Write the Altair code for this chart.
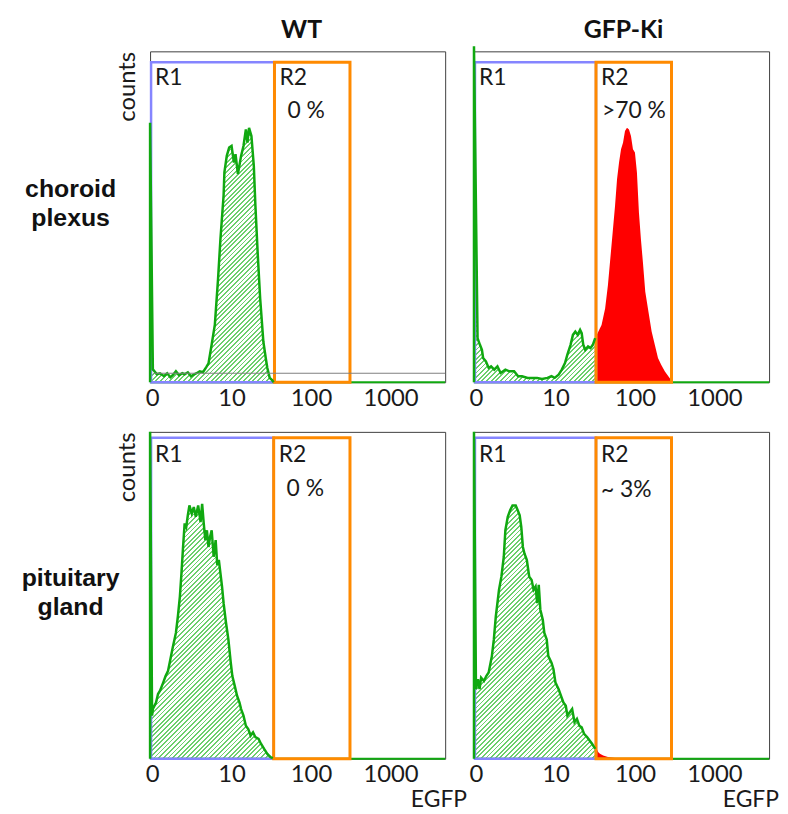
import math
import altair as alt
import pandas as pd

# ---------------- data ----------------
# x: log10 of EGFP intensity (decades; the "0" tick is the first decade), y: relative counts (full scale = 1000)
wt_cp_x = [-0.025, -0.025, 0.01, 0.06, 0.10, 0.15, 0.19, 0.23, 0.26, 0.30, 0.34, 0.38, 0.41, 0.45, 0.49,
           0.53, 0.56, 0.60, 0.64, 0.68, 0.71, 0.75, 0.79, 0.83, 0.86, 0.90, 0.91, 0.94, 0.97, 1.00,
           1.03, 1.05, 1.08, 1.12, 1.15, 1.18, 1.20, 1.22, 1.25, 1.28, 1.30, 1.33, 1.36, 1.40, 1.43,
           1.45, 1.48, 1.51, 1.53]
wt_cp_y = [0, 784, 39, 24, 27, 18, 27, 15, 21, 33, 21, 27, 24, 30, 18,
           24, 27, 33, 30, 45, 57, 114, 174, 312, 432, 565, 634, 684, 709, 714,
           664, 689, 629, 684, 714, 764, 724, 769, 744, 654, 534, 384, 253, 123, 73,
           43, 13, 6, 0]

ki_cp_x = [-0.025, -0.025, 0.02, 0.05, 0.075, 0.09, 0.125, 0.16, 0.19, 0.23, 0.27, 0.31, 0.37, 0.42, 0.48,
           0.53, 0.58, 0.65, 0.71, 0.77, 0.83, 0.90, 0.95, 0.99, 1.04, 1.08, 1.12, 1.15, 1.19, 1.22,
           1.25, 1.28, 1.31, 1.33, 1.35, 1.375, 1.41, 1.44, 1.47, 1.50,
           1.54, 1.58, 1.625, 1.66, 1.69, 1.72, 1.75, 1.775, 1.80, 1.825, 1.85, 1.875, 1.90, 1.925, 1.95,
           1.975, 2.00, 2.025, 2.05, 2.075, 2.10, 2.13, 2.17, 2.21, 2.25, 2.29, 2.33, 2.375, 2.42, 2.45, 2.47]
ki_cp_y = [0, 1015, 133, 113, 98, 73, 63, 43, 48, 38, 48, 28, 38, 33, 33,
           18, 18, 13, 13, 13, 10, 13, 18, 13, 23, 38, 58, 83, 113, 143,
           153, 143, 158, 148, 113, 98, 108, 103, 113, 133,
           153, 173, 223, 293, 373, 453, 534, 614, 664, 704, 724, 759, 769, 764, 744,
           704, 694, 634, 514, 433, 363, 273, 213, 153, 113, 73, 53, 33, 18, 8, 0]

wt_pg_x = [-0.025, -0.025, 0.00, 0.01, 0.05, 0.075, 0.10, 0.14, 0.17, 0.20, 0.23, 0.26, 0.30, 0.325, 0.35,
           0.37, 0.39, 0.41, 0.43, 0.45, 0.47, 0.50, 0.525, 0.55, 0.58, 0.61, 0.63, 0.65, 0.67, 0.69,
           0.71, 0.73, 0.75, 0.775, 0.80, 0.82, 0.84, 0.86, 0.88, 0.90, 0.93, 0.96, 0.99, 1.01, 1.04,
           1.07, 1.10, 1.12, 1.15, 1.18, 1.21, 1.24, 1.27, 1.30, 1.34, 1.37, 1.41, 1.45, 1.49, 1.52, 1.55]
wt_pg_y = [0, 1000, 132, 152, 172, 198, 208, 233, 253, 268, 304, 340, 385, 436, 496,
           568, 648, 720, 709, 745, 775, 750, 770, 740, 775, 724, 780, 720, 669, 699,
           648, 679, 699, 618, 669, 593, 608, 568, 527, 476, 416, 365, 294, 253, 223,
           192, 172, 152, 132, 101, 91, 71, 81, 66, 61, 46, 30, 15, 5, 2, 0]

ki_pg_x = [-0.025, -0.025, 0.00, 0.025, 0.045, 0.065, 0.10, 0.13, 0.16, 0.20, 0.225, 0.25, 0.29, 0.32, 0.35,
           0.37, 0.40, 0.43, 0.46, 0.50, 0.525, 0.55, 0.57, 0.59, 0.61, 0.64, 0.67, 0.70, 0.725, 0.75,
           0.77, 0.79, 0.81, 0.84, 0.86, 0.89, 0.91, 0.95, 0.975, 1.00, 1.04, 1.07, 1.10, 1.13, 1.15,
           1.18, 1.21, 1.24, 1.27, 1.30, 1.33, 1.36, 1.40, 1.43, 1.46, 1.50, 1.52, 1.54, 1.56, 1.60,
           1.66, 1.75, 1.83]
ki_pg_y = [0, 1000, 213, 243, 213, 248, 238, 253, 264, 314, 365, 436, 517, 557, 618,
           699, 740, 760, 775, 775, 760, 745, 709, 648, 628, 608, 557, 547, 517, 527,
           476, 532, 456, 426, 385, 365, 314, 294, 274, 233, 213, 192, 172, 162, 132,
           142, 152, 112, 122, 101, 96, 76, 66, 56, 46, 30, 30, 20, 15, 10,
           5, 2, 0]

hist_x = [wt_cp_x, ki_cp_x, wt_pg_x, ki_pg_x]
hist_y = [wt_cp_y, ki_cp_y, wt_pg_y, ki_pg_y]

# gates (decades) and gate top (counts)
r1_start = [-0.0125, -0.0125, -0.0125, -0.0125]
r1_end = [1.54, 1.51, 1.53, 1.51]
r2_end = [2.49, 2.46, 2.49, 2.46]
gate_top = [967, 967, 982, 982]
r2_pct = ["0 %", ">70 %", "0 %", "~ 3%"]
wt_cp_threshold = 27

col_titles = ["WT", "GFP-Ki"]
row_labels = ["choroid\nplexus", "pituitary\ngland"]
x_title = "EGFP"
tick_values = [0, 1, 2, 3]

# ---------------- style ----------------
X_MIN, X_MAX = -0.025, 3.6875
PW = 297
PH = [333, 333, 329, 329]
PXD = PW / (X_MAX - X_MIN)

GREEN_LINE = "#10a810"
HATCH_INK = "#6ccf6c"
RED = "#ff0000"
BLUE = "#8585ff"
ORANGE = "#ff8a00"
FRAME = "#404040"
TEXT = "#1a1a1a"
FONT = "Lato"

pct_dx = [13, 6, 13, 5]
lab_dy = [23, 23, 24, 24]
pct_dy = [56, 56, 59, 60]
egfp_right = [319, 307]
title_dx = [4, 2]


def hatch(w, h, period=3.3, frac=0.4):
    k = (w + h) / (w * w + h * h)
    n = max(1, int(round((w + h) / math.sqrt(2) / period)))
    stops = []
    for j in range(n):
        a, b, c = j / n, (j + frac) / n, (j + 1) / n
        stops += [alt.GradientStop(color=HATCH_INK, offset=a),
                  alt.GradientStop(color=HATCH_INK, offset=b),
                  alt.GradientStop(color="#ffffff", offset=b),
                  alt.GradientStop(color="#ffffff", offset=min(c, 1.0))]
    return alt.LinearGradient(gradient="linear", stops=stops, x1=0, y1=0, x2=k * w, y2=k * h)


def panel(i):
    row, col = divmod(i, 2)
    H = PH[i]
    df = pd.DataFrame({"i": list(range(len(hist_x[i]))), "d": hist_x[i], "c": hist_y[i]})
    gate = r1_end[i]
    green_df = df[df.d <= gate + 1e-9]
    hatch_df = green_df[green_df.i > 0]
    red_df = df[df.d >= gate - 0.03]

    xaxis = alt.Axis(values=tick_values, title="",
                     labelExpr="datum.value == 0 ? '0' : format(pow(10, datum.value), 'd')",
                     labelFont=FONT, labelFontSize=24, labelColor=TEXT, labelPadding=4,
                     labelFlush=False, labelOverlap=False, ticks=False, domain=False, grid=False)
    xscale = alt.Scale(domain=[X_MIN, X_MAX], nice=False, zero=False)
    yscale = alt.Scale(domain=[0, 1000], nice=False, zero=False)
    if col == 0:
        yaxis = alt.Axis(title="counts", titleFont=FONT, titleFontSize=24, titleFontWeight="normal",
                         titleColor=TEXT, titleAnchor="end", titlePadding=11,
                         labels=False, ticks=False, domain=False, grid=False)
    else:
        yaxis = None

    def X(f):
        return alt.X(f"{f}:Q", scale=xscale, axis=xaxis)

    def Y(f):
        return alt.Y(f"{f}:Q", scale=yscale, axis=yaxis)

    w = (hatch_df.d.max() - X_MIN) * PXD
    h = hatch_df.c.max() / 1000 * H

    layers = []
    layers.append(alt.Chart(hatch_df).mark_area(fill=hatch(w, h), clip=False)
                  .encode(x=X("d"), y=Y("c")))
    if len(red_df) > 1:
        layers.append(alt.Chart(red_df).mark_area(fill=RED, clip=False).encode(x=X("d"), y=Y("c")))
    base_df = pd.DataFrame({"a": [X_MIN], "b": [X_MAX], "z": [0]})
    layers.append(alt.Chart(base_df).mark_rule(color=GREEN_LINE, strokeWidth=2)
                  .encode(x=X("a"), x2="b", y=Y("z")))

    g = pd.DataFrame({"r1s": [r1_start[i]], "r1e": [r1_end[i]], "r2e": [r2_end[i]],
                      "top": [gate_top[i]], "bot": [0],
                      "l1": ["R1"], "l2": ["R2"], "pct": [r2_pct[i]]})
    layers.append(alt.Chart(g).mark_rect(fillOpacity=0, stroke=BLUE, strokeWidth=2.5)
                  .encode(x=X("r1s"), x2="r1e", y=Y("top"), y2="bot"))
    layers.append(alt.Chart(g).mark_rect(fillOpacity=0, stroke=ORANGE, strokeWidth=3)
                  .encode(x=X("r1e"), x2="r2e", y=Y("top"), y2="bot"))
    layers.append(alt.Chart(green_df).mark_line(color=GREEN_LINE, strokeWidth=2.5, clip=False)
                  .encode(x=X("d"), y=Y("c"), order="i:Q"))
    if i == 0:
        th = pd.DataFrame({"a": [0.025], "b": [X_MAX], "c": [wt_cp_threshold]})
        layers.append(alt.Chart(th).mark_rule(color="#808080", strokeWidth=1)
                      .encode(x=X("a"), x2="b", y=Y("c")))

    tkw = dict(align="left", baseline="alphabetic", font=FONT, fontSize=23, color=TEXT)
    layers.append(alt.Chart(g).mark_text(dx=4, dy=lab_dy[i], **tkw)
                  .encode(x=X("r1s"), y=Y("top"), text="l1:N"))
    layers.append(alt.Chart(g).mark_text(dx=5, dy=lab_dy[i], **tkw)
                  .encode(x=X("r1e"), y=Y("top"), text="l2:N"))
    layers.append(alt.Chart(g).mark_text(dx=pct_dx[i], dy=pct_dy[i], **tkw)
                  .encode(x=X("r1e"), y=Y("top"), text="pct:N"))

    if col == 0:
        rl = pd.DataFrame({"t": [row_labels[row]]})
        layers.append(alt.Chart(rl).mark_text(lineBreak="\n", align="center", baseline="alphabetic",
                                              font="Liberation Sans", fontWeight="bold", fontSize=25,
                                              lineHeight=29, color="#111111")
                      .encode(x=alt.value(-80), y=alt.value(147 if row == 0 else 155), text="t:N"))
    if row == 0:
        ct = pd.DataFrame({"t": [col_titles[col]]})
        layers.append(alt.Chart(ct).mark_text(align="center", baseline="alphabetic", font=FONT,
                                              fontWeight="bold", fontSize=25, color="#111111")
                      .encode(x=alt.value(PW / 2 + title_dx[col]), y=alt.value(-13), text="t:N"))
    else:
        et = pd.DataFrame({"t": [x_title]})
        layers.append(alt.Chart(et).mark_text(align="right", baseline="alphabetic", font=FONT,
                                              fontSize=23, color=TEXT)
                      .encode(x=alt.value(egfp_right[col]), y=alt.value(H + 49), text="t:N"))

    return alt.layer(*layers).properties(width=PW, height=H)


chart = (alt.concat(panel(0), panel(1), panel(2), panel(3), columns=2,
                    spacing={"row": 50, "column": 29}, bounds="flush")
         .properties(padding={"left": 13, "top": 7, "right": 0, "bottom": 0})
         .configure_view(stroke=FRAME, strokeWidth=1))

chart.save("out.html", embed_options={"renderer": "svg", "actions": False})
